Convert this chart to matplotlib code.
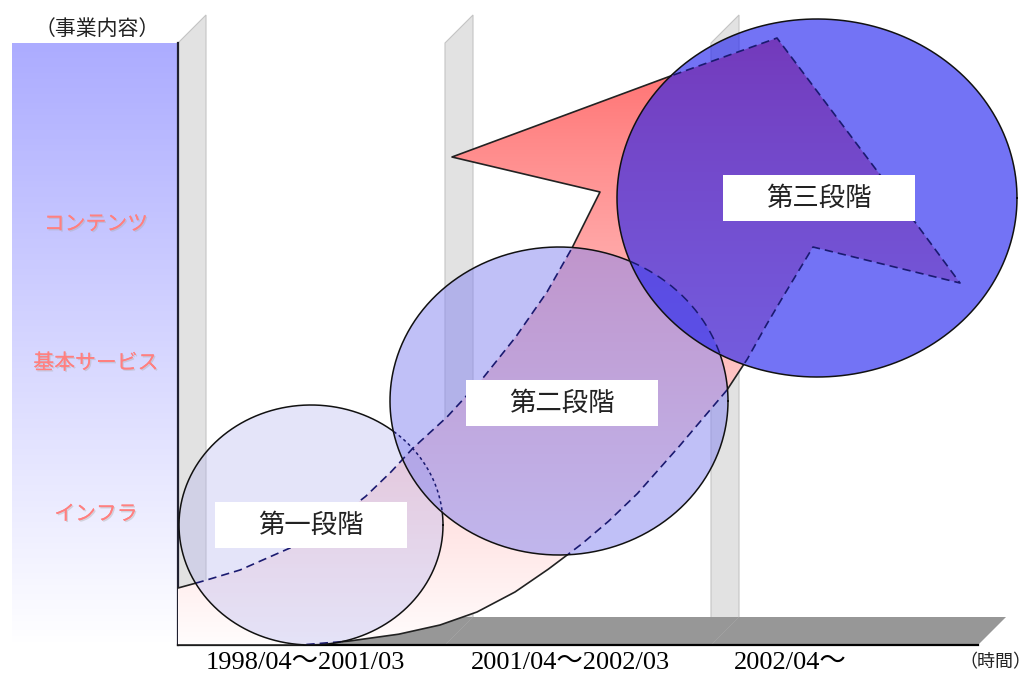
import numpy as np
import matplotlib.pyplot as plt
from matplotlib.patches import Polygon, Ellipse, Rectangle
import matplotlib.patheffects as pe

plt.rcParams['font.family'] = ['Noto Sans CJK JP', 'DejaVu Sans']

# 縦軸の区分（事業内容）
categories = ['インフラ', '基本サービス', 'コンテンツ']
category_y = [514, 363, 224]

# 横軸の区分（時間）
periods = ['1998/04～2001/03', '2001/04～2002/03', '2002/04～']
period_x = [305, 570, 790]
wall_x = [178, 445, 711]

# 段階ごとの円
stages = ['第一段階', '第二段階', '第三段階']
stage_cx = [311, 559, 817]
stage_cy = [525, 401, 198]
stage_rx = [132, 169, 200]
stage_ry = [120, 154, 179]
label_cx = [311, 562, 819]
label_cy = [525, 403, 198]

# 矢印の輪郭
arrow_x = [178, 200, 240, 290, 330, 365, 390, 412, 447, 483, 515, 547, 572,
           600, 452, 665, 777, 878, 960, 813, 790, 768, 748, 727, 683, 638,
           610, 583, 550, 515, 477, 440, 400, 350, 300, 178]
arrow_y = [588, 582, 570, 548, 524, 497, 473, 449, 417, 378, 338, 292, 248,
           192, 157, 78, 38, 172, 283, 247, 285, 322, 358, 390, 442, 493,
           520, 543, 568, 592, 612, 625, 634, 641, 645, 645]


def inside(px, py, idx):
    # 点が円 idx の内側にあるか
    m = np.zeros(len(px), dtype=bool)
    for i in idx:
        m |= ((px - stage_cx[i]) / stage_rx[i]) ** 2 + ((py - stage_cy[i]) / stage_ry[i]) ** 2 < 1
    return m


def densify(xs, ys, n=40):
    px, py = [], []
    for k in range(len(xs) - 1):
        s = np.linspace(0, 1, n, endpoint=False)
        px.append(xs[k] + (xs[k + 1] - xs[k]) * s)
        py.append(ys[k] + (ys[k + 1] - ys[k]) * s)
    px.append([xs[-1]])
    py.append([ys[-1]])
    return np.concatenate(px), np.concatenate(py)


def split_plot(px, py, mask, solid_kw, dash_kw):
    a = np.where(mask, np.nan, px)
    b = np.where(mask, px, np.nan)
    ax.plot(a, py, **solid_kw)
    ax.plot(b, py, **dash_kw)


fig = plt.figure(figsize=(10.32, 6.73), dpi=100)
ax = fig.add_axes([0, 0, 1, 1])
ax.set_xlim(0, 1032)
ax.set_ylim(673, 0)
ax.axis('off')

x0, x_end, y_top, y_bot, depth = 178, 978, 43, 645, 28

# 左側の青いグラデーション
t = np.linspace(0, 1, 200)[:, None]
grad = np.dstack([172 + 83 * t, 172 + 83 * t, np.full_like(t, 255)]) / 255
ax.imshow(grad, extent=(12, x0, y_bot, y_top), aspect='auto', zorder=1)

# 壁
for wx in wall_x:
    ax.add_patch(Polygon([(wx, y_bot), (wx, y_top), (wx + depth, y_top - depth),
                          (wx + depth, y_bot - depth)],
                         facecolor='#e2e2e2', edgecolor='#c4c4c4', lw=0.8, zorder=2))

# 床
edges = wall_x + [x_end]
for a, b in zip(edges[:-1], edges[1:]):
    ax.add_patch(Polygon([(a, y_bot), (b, y_bot), (b + depth, y_bot - depth),
                          (a + depth, y_bot - depth)],
                         facecolor='#979797', edgecolor='none', zorder=3))

ax.plot([x0, x0], [y_top, y_bot], color='#202030', lw=1.6, zorder=4)
ax.plot([x0, x_end], [y_bot, y_bot], color='black', lw=1.6, zorder=4)

# 矢印
arrow = Polygon(list(zip(arrow_x, arrow_y)), closed=True, facecolor='none',
                edgecolor='none', zorder=6)
ax.add_patch(arrow)
t = np.linspace(0, 1, 300)[:, None] ** 0.8
agrad = np.dstack([np.full_like(t, 255), 100 + 153 * t, 100 + 153 * t]) / 255
im = ax.imshow(agrad, extent=(170, 1000, 648, 35), aspect='auto', zorder=5)
im.set_clip_path(arrow)

# 円
circle_colors = [(180/255, 180/255, 240/255, 0.35),
                 (135/255, 135/255, 240/255, 0.52),
                 (30/255, 30/255, 240/255, 0.62)]
for i in range(3):
    ax.add_patch(Ellipse((stage_cx[i], stage_cy[i]), 2 * stage_rx[i], 2 * stage_ry[i],
                         facecolor=circle_colors[i], edgecolor='none', zorder=7 + i))

# 矢印の線（円の内側は破線）
px, py = densify(arrow_x, arrow_y)
split_plot(px, py, inside(px, py, [0, 1, 2]),
           dict(color='#222222', lw=1.2, zorder=10),
           dict(color='#1a1a70', lw=1.2, ls=(0, (5, 3)), zorder=10))

# 円の線（後ろの円は破線）
th = np.linspace(0, 2 * np.pi, 600)
for i in range(3):
    ex = stage_cx[i] + stage_rx[i] * np.cos(th)
    ey = stage_cy[i] + stage_ry[i] * np.sin(th)
    split_plot(ex, ey, inside(ex, ey, list(range(i + 1, 3))),
               dict(color='#111111', lw=1.1, zorder=10),
               dict(color='#1a1a70', lw=1.1, ls=(0, (2, 2)) if i == 0 else (0, (6, 4)),
                    zorder=10))

# 段階ラベル
for i, name in enumerate(stages):
    ax.add_patch(Rectangle((label_cx[i] - 96, label_cy[i] - 23), 192, 46,
                           facecolor='white', edgecolor='none', zorder=11))
    ax.text(label_cx[i], label_cy[i], name, fontsize=19, ha='center', va='center',
            color='#222222', zorder=12)

# 事業内容ラベル
for name, y in zip(categories, category_y):
    ax.text(96, y, name, fontsize=15, ha='center', va='center', color='#ff8080',
            path_effects=[pe.withSimplePatchShadow(offset=(1, -1), shadow_rgbFace='#aaaaaa',
                                                   alpha=0.4), pe.Normal()],
            zorder=5)

ax.text(97, 29, '（事業内容）', fontsize=15, ha='center', va='center', color='#222222')
ax.text(995, 662, '（時間）', fontsize=13, ha='center', va='center', color='#222222')

for name, x in zip(periods, period_x):
    ax.text(x, 663, name, fontsize=19, ha='center', va='center', color='black',
            family=['Liberation Serif', 'Noto Sans CJK JP'])

fig.savefig('out.png', dpi=100)
